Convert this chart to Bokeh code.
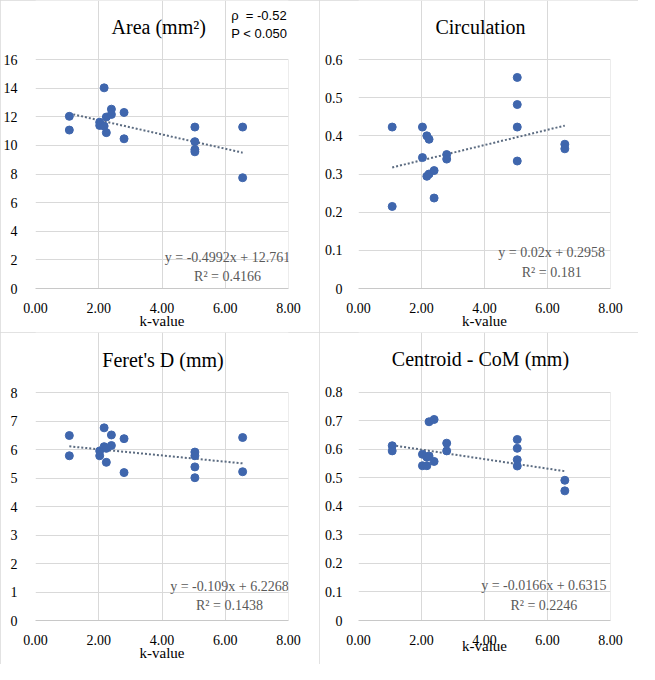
import numpy as np
from bokeh.plotting import figure
from bokeh.layouts import gridplot
from bokeh.models import Label, FixedTicker, Range1d
from bokeh.embed import file_html
from bokeh.resources import INLINE

# ---------------- data ----------------
k_value = [1.07, 1.07, 2.03, 2.03, 2.17, 2.17, 2.24, 2.24, 2.40, 2.40,
           2.80, 2.80, 5.04, 5.04, 5.04, 5.04, 6.55, 6.55]
area = [12.03, 11.07, 11.62, 11.39, 14.02, 11.35, 11.98, 10.89, 12.53, 12.16,
        12.30, 10.46, 11.28, 10.26, 9.71, 9.55, 11.28, 7.74]
circulation = [0.423, 0.215, 0.423, 0.343, 0.400, 0.294, 0.391, 0.300, 0.309, 0.237,
               0.351, 0.339, 0.553, 0.482, 0.423, 0.334, 0.378, 0.366]
feret = [6.49, 5.78, 5.95, 5.78, 6.76, 6.10, 6.04, 5.55, 6.51, 6.14,
         6.38, 5.19, 5.91, 5.78, 5.39, 5.01, 6.42, 5.22]
centroid = [0.612, 0.594, 0.582, 0.542, 0.572, 0.542, 0.696, 0.576, 0.704, 0.557,
            0.621, 0.594, 0.634, 0.603, 0.563, 0.541, 0.491, 0.454]

titles = ["Area (mm²)", "Circulation", "Feret's D (mm)", "Centroid - CoM (mm)"]
slopes = [-0.4992, 0.02, -0.109, -0.0166]
intercepts = [12.761, 0.2958, 6.2268, 0.6315]
eq_labels = ["y = -0.4992x + 12.761", "y = 0.02x + 0.2958",
             "y = -0.109x + 6.2268", "y = -0.0166x + 0.6315"]
r2_labels = ["R² = 0.4166", "R² = 0.181", "R² = 0.1438", "R² = 0.2246"]
x_label = "k-value"
x_ticks = [0, 2, 4, 6, 8]
x_tick_labels = ["0.00", "2.00", "4.00", "6.00", "8.00"]
y_ticks_area = [0, 2, 4, 6, 8, 10, 12, 14, 16]
y_labels_area = ["0", "2", "4", "6", "8", "10", "12", "14", "16"]
y_ticks_circ = [0, 0.1, 0.2, 0.3, 0.4, 0.5, 0.6]
y_labels_circ = ["0", "0.1", "0.2", "0.3", "0.4", "0.5", "0.6"]
y_ticks_feret = [0, 1, 2, 3, 4, 5, 6, 7, 8]
y_labels_feret = ["0", "1", "2", "3", "4", "5", "6", "7", "8"]
y_ticks_cent = [0, 0.1, 0.2, 0.3, 0.4, 0.5, 0.6, 0.7, 0.8]
y_labels_cent = ["0", "0.1", "0.2", "0.3", "0.4", "0.5", "0.6", "0.7", "0.8"]
rho_text = "ρ\u00a0\u00a0= -0.52"
p_text = "P < 0.050"

# ---------------- style ----------------
SERIF = "Liberation Serif"
SANS = "Liberation Sans"
DOT = "#3f66ad"
TREND = "#5b6b80"
GRID = "#d9d9d9"
EQ_COLOR = "#595959"
# reference panel is 327x340; scaled so that page + 8px margins fit 655x680
REF_W, REF_H = 327, 340
PW, PH = 319, 332
SX, SY = PW / REF_W, PH / REF_H


def make_panel(ys, title, slope, intercept, eq, r2, yticks, ylabels,
               geo, txt):
    L, T, FW, FH = (round(geo[0] * SX), round(geo[1] * SY),
                    round(geo[2] * SX), round(geo[3] * SY))
    ymax = yticks[-1]
    xmax = x_ticks[-1]
    # the frame is extended upward to hold the title, so texts are not clipped
    ytop = ymax * (FH + T) / FH
    p = figure(width=PW, height=PH, x_range=Range1d(0, xmax), y_range=Range1d(0, ytop),
               min_border_left=L, min_border_top=0,
               min_border_right=PW - L - FW, min_border_bottom=PH - T - FH,
               output_backend="svg", toolbar_location=None)
    p.background_fill_color = "white"
    p.border_fill_color = "white"
    p.outline_line_color = None
    p.grid.grid_line_color = GRID
    p.xgrid.ticker = FixedTicker(ticks=x_ticks)
    p.xgrid.bounds = (0, ymax)
    p.ygrid.ticker = FixedTicker(ticks=yticks)

    p.xaxis.ticker = FixedTicker(ticks=x_ticks)
    p.xaxis.major_label_overrides = dict(zip(x_ticks, x_tick_labels))
    p.yaxis.ticker = FixedTicker(ticks=yticks)
    p.yaxis.major_label_overrides = dict(zip(yticks, ylabels))
    for ax in (p.xaxis, p.yaxis):
        ax.major_tick_line_color = None
        ax.minor_tick_line_color = None
        ax.major_label_text_font = SERIF
        ax.major_label_text_font_size = "14px"
        ax.major_label_text_color = "#000000"
    p.xaxis.axis_line_color = "#c8c8c8"
    p.yaxis.axis_line_color = None
    p.xaxis.major_label_standoff = 8
    p.yaxis.major_label_standoff = txt.get("ystand", 12)
    p.xaxis.axis_label = x_label
    p.xaxis.axis_label_text_font = SERIF
    p.xaxis.axis_label_text_font_style = "normal"
    p.xaxis.axis_label_text_font_size = "15px"
    p.xaxis.axis_label_text_color = "#000000"
    p.xaxis.axis_label_standoff = txt.get("xlstand", -3)

    # right edge of the plot area
    p.segment(x0=[xmax], y0=[0], x1=[xmax], y1=[ymax], line_color=GRID, line_width=1)

    def dx(px):
        return (px * SX - L) / FW * xmax

    def dy(py):
        return (T + FH - py * SY) / FH * ymax

    # trend line across the data span
    xs = np.array([min(k_value), max(k_value)])
    p.line(xs, slope * xs + intercept, line_color=TREND, line_width=2,
           line_dash="2 2")
    p.scatter(k_value, ys, size=8, fill_color=DOT, line_color=DOT)

    p.add_layout(Label(x=dx(txt["title"][0]), y=dy(txt["title"][1]), text=title,
                       text_align="center", text_baseline="middle",
                       text_font=SERIF, text_font_size="20px", text_color="#000000"))
    p.add_layout(Label(x=dx(txt["eq"][0]), y=dy(txt["eq"][1]), text=eq,
                       text_align="center", text_baseline="middle",
                       text_font=SERIF, text_font_size="14px", text_color=EQ_COLOR))
    p.add_layout(Label(x=dx(txt["r2"][0]), y=dy(txt["r2"][1]), text=r2,
                       text_align="center", text_baseline="middle",
                       text_font=SERIF, text_font_size="14px", text_color=EQ_COLOR))
    p.styles = {"outline": "1px solid #d9d9d9", "outline-offset": "-1px"}
    return p, dx, dy


p1, dx1, dy1 = make_panel(area, titles[0], slopes[0], intercepts[0], eq_labels[0], r2_labels[0],
                          y_ticks_area, y_labels_area, (29, 60, 276, 235),
                          {"title": (163, 27), "eq": (238, 263), "r2": (238, 283),
                           "ystand": 12})
p1.add_layout(Label(x=dx1(242), y=dy1(15), text=rho_text, text_align="left",
                    text_baseline="middle", text_font=SANS, text_font_size="13px",
                    text_color="#000000"))
p1.add_layout(Label(x=dx1(242), y=dy1(34), text=p_text, text_align="left",
                    text_baseline="middle", text_font=SANS, text_font_size="13px",
                    text_color="#000000"))

p2, _, _ = make_panel(circulation, titles[1], slopes[1], intercepts[1], eq_labels[1], r2_labels[1],
                      y_ticks_circ, y_labels_circ, (40, 60, 258, 235),
                      {"title": (165, 27), "eq": (238, 258), "r2": (238, 279),
                       "ystand": 10})
p3, _, _ = make_panel(feret, titles[2], slopes[2], intercepts[2], eq_labels[2], r2_labels[2],
                      y_ticks_feret, y_labels_feret, (29, 61, 267, 234),
                      {"title": (163, 28), "eq": (233, 260), "r2": (233, 280),
                       "ystand": 12})
p4, _, _ = make_panel(centroid, titles[3], slopes[3], intercepts[3], eq_labels[3], r2_labels[3],
                      y_ticks_cent, y_labels_cent, (40, 62, 258, 240),
                      {"title": (165, 28), "eq": (230, 265), "r2": (230, 286),
                       "ystand": 10, "xlstand": -10})

grid = gridplot([[p1, p2], [p3, p4]], toolbar_location=None)

with open("out.html", "w") as f:
    f.write(file_html(grid, INLINE))
